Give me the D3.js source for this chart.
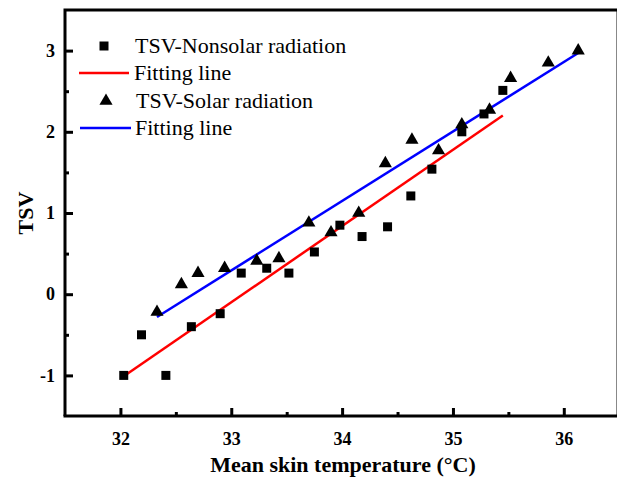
<!DOCTYPE html>
<html>
<head>
<meta charset="utf-8">
<script src="https://cdn.jsdelivr.net/npm/d3@7"></script>
<style>
  body { margin: 0; background: #fff; }
  svg { display: block; font-family: "Liberation Serif", "Times New Roman", serif; }
</style>
</head>
<body>
<div id="chart"></div>
<script>
// TSV votes vs mean skin temperature
const nonsolarTemp = [32.03, 32.19, 32.41, 32.64, 32.90, 33.09, 33.32, 33.52, 33.75, 33.98, 34.18, 34.41, 34.62, 34.81, 35.08, 35.28, 35.45]
const nonsolarTSV  = [-1.0, -0.50, -1.0, -0.40, -0.24, 0.26, 0.32, 0.26, 0.52, 0.85, 0.71, 0.83, 1.21, 1.54, 2.0, 2.22, 2.51]
const solarTemp = [32.33, 32.55, 32.70, 32.94, 33.23, 33.43, 33.70, 33.90, 34.15, 34.39, 34.63, 34.87, 35.08, 35.33, 35.52, 35.86, 36.13]
const solarTSV  = [-0.22, 0.12, 0.26, 0.32, 0.41, 0.44, 0.88, 0.76, 1.0, 1.61, 1.90, 1.77, 2.09, 2.27, 2.66, 2.85, 3.0]

// fitting line end points
const nonsolarFitTemp = [32.03, 35.45]
const nonsolarFitTSV  = [-1.01, 2.20]
const solarFitTemp = [32.33, 36.13]
const solarFitTSV  = [-0.28, 2.97]

const xTicks = [32, 33, 34, 35, 36]
const yTicks = [-1, 0, 1, 2, 3]
const xMinor = [32.5, 33.5, 34.5, 35.5]
const yMinor = [-0.5, 0.5, 1.5, 2.5]

const legendLabels = ["TSV-Nonsolar radiation", "Fitting line", "TSV-Solar radiation", "Fitting line"]

const w = 618
const h = 480
const plotL = 65, plotR = 617, plotT = 10, plotB = 416

const xScale = d3.scaleLinear().domain([31.5, 36.48]).range([plotL, plotR])
const yScale = d3.scaleLinear().domain([-1.5, 3.5]).range([plotB, plotT])

const svg = d3.select("#chart")
              .append("svg")
              .attr("width", w)
              .attr("height", h)

// frame: thin grey right edge
svg.append("line")
  .attr("x1", plotR - 0.5).attr("x2", plotR - 0.5)
  .attr("y1", plotT).attr("y2", plotB)
  .attr("stroke", "#888").attr("stroke-width", 1)

// x axis (ticks inward)
const xAxis = d3.axisBottom(xScale)
                .tickValues(xTicks)
                .tickSize(-8)
                .tickPadding(16)
                .tickFormat(d => String(d))
const gx = svg.append("g")
  .attr("transform", `translate(0, ${plotB})`)
  .call(xAxis)
gx.selectAll("line").attr("stroke-width", 3)
svg.append("g")
  .attr("transform", `translate(0, ${plotB})`)
  .call(d3.axisBottom(xScale).tickValues(xMinor).tickSize(-4).tickFormat(""))
  .selectAll("line").attr("stroke-width", 3)

// y axis (ticks inward), labels use plain hyphen
const yAxis = d3.axisLeft(yScale)
                .tickValues(yTicks)
                .tickSize(-8)
                .tickPadding(10)
                .tickFormat(d => String(d))
const gy = svg.append("g")
  .attr("transform", `translate(${plotL}, 0)`)
  .call(yAxis)
gy.selectAll("line").attr("stroke-width", 3)
svg.append("g")
  .attr("transform", `translate(${plotL}, 0)`)
  .call(d3.axisLeft(yScale).tickValues(yMinor).tickSize(-4).tickFormat(""))
  .selectAll("line").attr("stroke-width", 3)

svg.selectAll(".domain").remove()
svg.selectAll(".tick text")
  .style("font-family", "Liberation Serif, serif")
  .style("font-size", "18px")
  .style("font-weight", "bold")
  .attr("fill", "#000")

// thick frame lines
svg.append("path")
  .attr("d", `M${plotL},${plotB} L${plotL},${plotT} L${plotR},${plotT}`)
  .attr("fill", "none").attr("stroke", "#000").attr("stroke-width", 3)
svg.append("line")
  .attr("x1", plotL - 1.5).attr("x2", plotR)
  .attr("y1", plotB).attr("y2", plotB)
  .attr("stroke", "#000").attr("stroke-width", 3)

// axis titles
svg.append("text")
  .attr("x", 343)
  .attr("y", 472)
  .attr("text-anchor", "middle")
  .style("font-size", "22px")
  .style("font-weight", "bold")
  .text("Mean skin temperature (°C)")

svg.append("text")
  .attr("transform", "rotate(-90)")
  .attr("x", -213)
  .attr("y", 33)
  .attr("text-anchor", "middle")
  .style("font-size", "22px")
  .style("font-weight", "bold")
  .text("TSV")

// fitting lines
const line = d3.line().x(d => xScale(d[0])).y(d => yScale(d[1]))
svg.append("path")
  .datum(d3.zip(nonsolarFitTemp, nonsolarFitTSV))
  .attr("d", line)
  .attr("stroke", "#ff0000").attr("stroke-width", 2.5).attr("fill", "none")
svg.append("path")
  .datum(d3.zip(solarFitTemp, solarFitTSV))
  .attr("d", line)
  .attr("stroke", "#0000ff").attr("stroke-width", 2.5).attr("fill", "none")

// scatter points
const square = d3.symbol().type(d3.symbolSquare).size(81)
const triangle = d3.symbol().type(d3.symbolTriangle).size(75)

svg.selectAll(".nonsolar")
  .data(d3.zip(nonsolarTemp, nonsolarTSV))
  .enter()
  .append("path")
    .attr("class", "nonsolar")
    .attr("d", square)
    .attr("transform", d => `translate(${xScale(d[0])}, ${yScale(d[1])})`)
    .attr("fill", "#000")

svg.selectAll(".solar")
  .data(d3.zip(solarTemp, solarTSV))
  .enter()
  .append("path")
    .attr("class", "solar")
    .attr("d", triangle)
    .attr("transform", d => `translate(${xScale(d[0])}, ${yScale(d[1])})`)
    .attr("fill", "#000")

// legend
const legendY = [46, 73, 101, 128]
const legend = svg.append("g")
legend.append("path").attr("d", square).attr("transform", `translate(104, ${legendY[0]})`)
legend.append("line").attr("x1", 79).attr("x2", 129).attr("y1", legendY[1]).attr("y2", legendY[1])
  .attr("stroke", "#ff0000").attr("stroke-width", 2.5)
legend.append("path").attr("d", triangle).attr("transform", `translate(106, ${legendY[2]})`)
legend.append("line").attr("x1", 80).attr("x2", 131).attr("y1", legendY[3]).attr("y2", legendY[3])
  .attr("stroke", "#0000ff").attr("stroke-width", 2.5)

legend.selectAll("text")
  .data(legendLabels)
  .enter()
  .append("text")
    .attr("x", (d, i) => [135, 134, 136, 135][i])
    .attr("y", (d, i) => legendY[i] + 7)
    .style("font-size", "22px")
    .text(d => d)
</script>
</body>
</html>
